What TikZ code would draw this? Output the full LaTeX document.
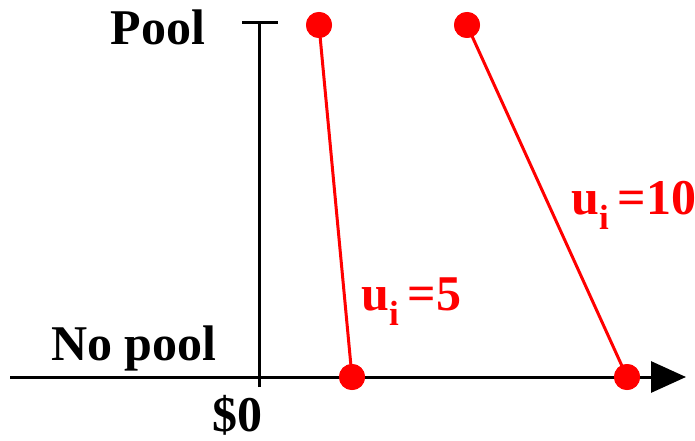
\documentclass[tikz,border=0pt]{standalone}
\usepackage{fontspec}
\setmainfont{Liberation Serif}
\usetikzlibrary{arrows.meta}
\begin{document}
\begin{tikzpicture}[x=1pt,y=1pt,
  dot/.style={circle,fill=red,inner sep=0pt,minimum size=26pt},
  redline/.style={draw=red,line width=3pt},
  axis/.style={draw=black,line width=3pt},
  lbl/.style={font=\fontsize{50}{52}\selectfont\bfseries,inner sep=0pt},
  rlbl/.style={lbl,text=red,anchor=base west}]
\useasboundingbox (0,0) rectangle (695,440);
% axes
\coordinate (xl) at (10,63);
\coordinate (xr) at (686,63);
\coordinate (yb) at (259,53);
\coordinate (yt) at (259,417);
\coordinate (tl) at (242,417);
\coordinate (tr) at (278,417);
\draw[axis,-{Triangle[length=35pt,width=31pt]}] (xl) -- (xr);
\draw[axis] (yb) -- (yt);
\draw[axis] (tl) -- (tr);
% dots
\node[dot] (a1) at (319,415) {};
\node[dot] (a2) at (352,63) {};
\node[dot] (b1) at (467,415) {};
\node[dot] (b2) at (627,63) {};
\draw[redline] (a1.center) -- (a2.center);
\draw[redline] (b1.center) -- (b2.center);
\node[dot] at (a1) {};
\node[dot] at (a2) {};
\node[dot] at (b1) {};
\node[dot] at (b2) {};
% labels
\node[lbl,anchor=base] (pool) at (158,395) {Pool};
\node[lbl,anchor=base] (nopool) at (134,80) {No pool};
\node[lbl,anchor=base] (zero) at (237,9) {\$0};
\node[rlbl] (u5) at (361,130) {u\textsubscript{i}\,=5};
\node[rlbl] (u10) at (571,226) {u\textsubscript{i}\,=10};
\end{tikzpicture}
\end{document}
